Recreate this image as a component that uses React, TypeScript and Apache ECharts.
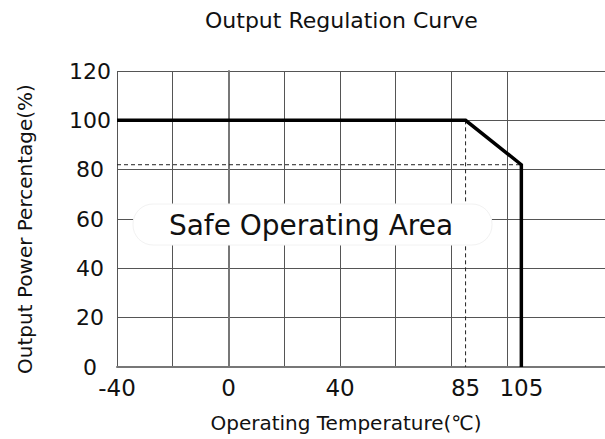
import React, { useEffect, useRef } from "react";
import * as echarts from "echarts";

const curveTemps = [-40, 85, 105, 105];
const curvePower = [100, 100, 82, 0];
const derateTemp = 85;
const deratePower = 82;
const xLabelValues = [-40, 0, 40, 85, 105];
const yTicks = [0, 20, 40, 60, 80, 100, 120];
const FONT = "DejaVu Sans";

export default function App() {
  const ref = useRef<HTMLDivElement>(null);
  useEffect(() => {
    if (!ref.current) return;
    const chart = echarts.init(ref.current, null, { renderer: "svg" });
    const curve = curveTemps.map((t, i) => [t, curvePower[i]]);
    const hDash = [
      [-40, deratePower],
      [curveTemps[2], deratePower],
    ];
    const vDash = [
      [derateTemp, curvePower[1]],
      [derateTemp, 0],
    ];
    chart.setOption({
      animation: false,
      backgroundColor: "#fff",
      title: {
        text: "Output Regulation Curve",
        left: 205,
        top: 9,
        padding: 0,
        textStyle: { fontFamily: FONT, fontSize: 22, fontWeight: "normal", color: "#111" },
      },
      grid: [
        { left: 117, right: 0, top: 71, bottom: 72 },
        { left: 117, right: 98, top: 71, bottom: 72 },
      ],
      xAxis: [
        {
          type: "value",
          gridIndex: 0,
          min: -40,
          max: 135,
          interval: 20,
          name: "Operating Temperature(℃)",
          nameLocation: "middle",
          nameGap: 46,
          nameTextStyle: { fontFamily: FONT, fontSize: 20, color: "#111", padding: [0, 30, 0, 0] },
          axisLine: { show: true, lineStyle: { color: "#777", width: 2 } },
          axisTick: { show: false },
          splitLine: { show: false },
          axisLabel: {
            customValues: xLabelValues,
            fontFamily: FONT,
            fontSize: 23,
            color: "#111",
            margin: 9,
          },
        },
        {
          type: "value",
          gridIndex: 1,
          min: -40,
          max: 100,
          interval: 20,
          axisLine: { show: false },
          axisTick: { show: false },
          axisLabel: { show: false },
          splitLine: { show: true, lineStyle: { color: "#555", width: 1 } },
        },
      ],
      yAxis: [
        {
          type: "value",
          gridIndex: 0,
          min: 0,
          max: 120,
          interval: 20,
          name: "Output Power Percentage(%)",
          nameLocation: "middle",
          nameGap: 82,
          nameTextStyle: { fontFamily: FONT, fontSize: 20, color: "#111", padding: [0, 20, 0, 0] },
          axisLine: { show: true, lineStyle: { color: "#777", width: 2 } },
          axisTick: { show: false },
          splitLine: { show: true, lineStyle: { color: "#555", width: 1 } },
          axisLabel: {
            customValues: yTicks,
            fontFamily: FONT,
            fontSize: 22,
            color: "#111",
            align: "center",
            margin: 27,
          },
        },
        {
          type: "value",
          gridIndex: 1,
          min: 0,
          max: 120,
          show: false,
          splitLine: { show: false },
        },
      ],
      series: [
        {
          type: "line",
          xAxisIndex: 0,
          yAxisIndex: 0,
          data: hDash,
          symbol: "none",
          lineStyle: { color: "#222", width: 1, type: [4, 3] },
          z: 3,
        },
        {
          type: "line",
          xAxisIndex: 0,
          yAxisIndex: 0,
          data: vDash,
          symbol: "none",
          lineStyle: { color: "#222", width: 1, type: [4, 3] },
          z: 3,
        },
        {
          type: "line",
          xAxisIndex: 0,
          yAxisIndex: 0,
          data: curve,
          symbol: "none",
          lineStyle: { color: "#000", width: 3.5, join: "miter" },
          z: 5,
        },
      ],
      graphic: [
        {
          type: "group",
          z: 100,
          children: [
            {
              type: "rect",
              shape: { x: 133, y: 204, width: 359, height: 41, r: 20 },
              style: { fill: "#fff", stroke: "#f2f2f2", lineWidth: 1 },
              z: 100,
            },
            {
              type: "text",
              x: 311,
              y: 225,
              style: {
                text: "Safe Operating Area",
                font: `28px "${FONT}"`,
                fill: "#111",
                textAlign: "center",
                textVerticalAlign: "middle",
              },
              z: 101,
            },
          ],
        },
      ],
    });
    return () => chart.dispose();
  }, []);
  return (
    <div
      ref={ref}
      style={{ position: "fixed", left: 0, top: 0, width: 605, height: 439, background: "#fff" }}
    />
  );
}
